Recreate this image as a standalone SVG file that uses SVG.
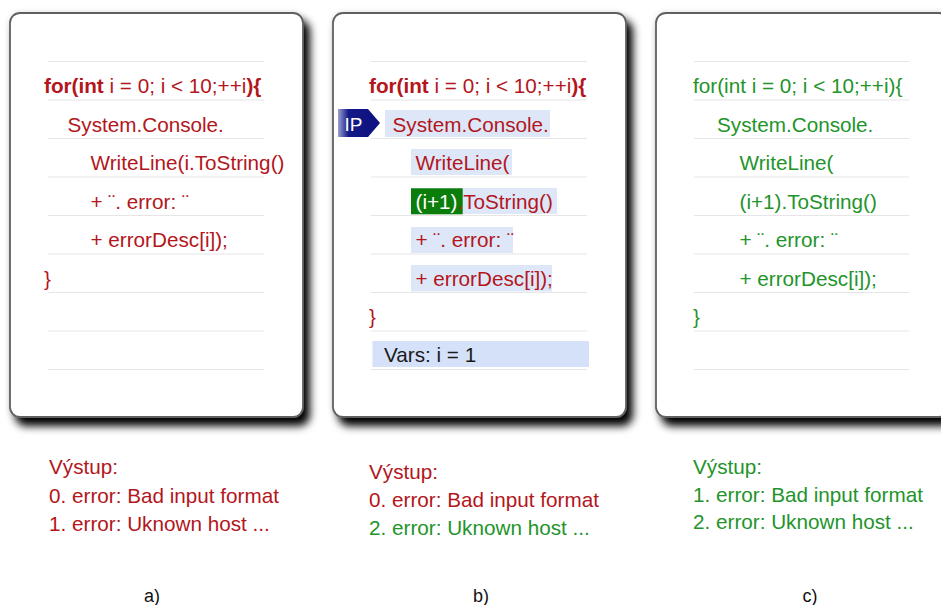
<svg xmlns="http://www.w3.org/2000/svg" width="941" height="605" viewBox="0 0 941 605">
  <defs>
    <filter id="shadow" x="-10%" y="-10%" width="125%" height="125%">
      <feGaussianBlur in="SourceAlpha" stdDeviation="4" result="blur"/>
      <feOffset in="blur" dx="6" dy="8" result="off"/>
      <feComponentTransfer in="off" result="shade">
        <feFuncA type="linear" slope="1"/>
      </feComponentTransfer>
      <feGaussianBlur in="SourceAlpha" stdDeviation="3" result="glow"/>
      <feComponentTransfer in="glow" result="halo">
        <feFuncA type="linear" slope="0.12"/>
      </feComponentTransfer>
      <feMerge>
        <feMergeNode in="halo"/>
        <feMergeNode in="shade"/>
        <feMergeNode in="SourceGraphic"/>
      </feMerge>
    </filter>
    <linearGradient id="ipGrad" x1="0" y1="0" x2="1" y2="0">
      <stop offset="0" stop-color="#9aa0d4"/>
      <stop offset="0.25" stop-color="#141a86"/>
      <stop offset="1" stop-color="#0c1080"/>
    </linearGradient>
  </defs>
  <style>
    text { font-family: "Liberation Sans", Arial, sans-serif; }
    .card { fill: #ffffff; stroke: #606060; stroke-width: 1.8; filter: url(#shadow); }
    .rule { stroke: #e6e6e6; stroke-width: 1.2; }
    .code { font-size: 20.7px; }
    .red { fill: #b3161c; }
    .green { fill: #23942b; }
    .b { font-weight: bold; }
    .hl { fill: #dde7f8; }
    .out { font-size: 20.7px; }
    .lbl { font-size: 18px; fill: #111111; }
  </style>

  <!-- panel a: original loop -->
  <g id="panel-a">
    <rect class="card" x="10" y="13" width="293" height="404" rx="10"/>
    <g class="rule">
      <line x1="48" y1="61.5" x2="264" y2="61.5"/>
      <line x1="48" y1="100" x2="264" y2="100"/>
      <line x1="48" y1="138.5" x2="264" y2="138.5"/>
      <line x1="48" y1="177" x2="264" y2="177"/>
      <line x1="48" y1="215.5" x2="264" y2="215.5"/>
      <line x1="48" y1="254" x2="264" y2="254"/>
      <line x1="48" y1="292.5" x2="264" y2="292.5"/>
      <line x1="48" y1="331" x2="264" y2="331"/>
      <line x1="48" y1="369.5" x2="264" y2="369.5"/>
    </g>
    <g class="code red">
      <text x="44" y="93"><tspan class="b">for(int</tspan> i = 0; i &lt; 10;++i<tspan class="b">){</tspan></text>
      <text x="67.5" y="131.5">System.Console.</text>
      <text x="90.5" y="170">WriteLine(i.ToString()</text>
      <text x="90.5" y="208.5">+ ¨. error: ¨</text>
      <text x="90.5" y="247">+ errorDesc[i]);</text>
      <text x="44" y="285.5">}</text>
    </g>
  </g>

  <!-- panel b: stepping through the corrected loop -->
  <g id="panel-b">
    <rect class="card" x="333" y="13" width="293" height="404" rx="10"/>
    <g class="rule">
      <line x1="371" y1="61.5" x2="587" y2="61.5"/>
      <line x1="371" y1="100" x2="587" y2="100"/>
      <line x1="371" y1="138.5" x2="587" y2="138.5"/>
      <line x1="371" y1="177" x2="587" y2="177"/>
      <line x1="371" y1="215.5" x2="587" y2="215.5"/>
      <line x1="371" y1="254" x2="587" y2="254"/>
      <line x1="371" y1="292.5" x2="587" y2="292.5"/>
      <line x1="371" y1="331" x2="587" y2="331"/>
      <line x1="371" y1="369.5" x2="587" y2="369.5"/>
    </g>
    <rect class="hl" x="385" y="110" width="165" height="27"/>
    <rect class="hl" x="411" y="149" width="101" height="26"/>
    <rect class="hl" x="411" y="188" width="146" height="26"/>
    <rect class="hl" x="411" y="227" width="102" height="26"/>
    <rect class="hl" x="411" y="265" width="141" height="26.5"/>
    <rect x="372.5" y="341" width="216.5" height="26" fill="#d5e1f8"/>
    <rect x="411" y="188.3" width="51.7" height="26" fill="#0b7d0b"/>
    <g class="code red">
      <text x="369" y="93"><tspan class="b">for(int</tspan> i = 0; i &lt; 10;++i<tspan class="b">){</tspan></text>
      <text x="392.5" y="131.5">System.Console.</text>
      <text x="415.5" y="170">WriteLine(</text>
      <text x="415.5" y="208.5"><tspan fill="#ffffff">(i+1)</tspan>.ToString()</text>
      <text x="415.5" y="247">+ ¨. error: ¨</text>
      <text x="415.5" y="285.5">+ errorDesc[i]);</text>
      <text x="369" y="324">}</text>
    </g>
    <text class="code" x="384" y="362" fill="#1a1a1a">Vars: i = 1</text>
    <g id="ip-marker">
      <polygon points="338,109 368,109 380,123 368,137 338,137" fill="url(#ipGrad)"/>
      <text x="344.5" y="131" font-size="19px" fill="#ffffff">IP</text>
    </g>
  </g>

  <!-- panel c: fixed loop -->
  <g id="panel-c">
    <rect class="card" x="656" y="13" width="293" height="404" rx="10"/>
    <g class="rule">
      <line x1="694" y1="61.5" x2="909" y2="61.5"/>
      <line x1="694" y1="100" x2="909" y2="100"/>
      <line x1="694" y1="138.5" x2="909" y2="138.5"/>
      <line x1="694" y1="177" x2="909" y2="177"/>
      <line x1="694" y1="215.5" x2="909" y2="215.5"/>
      <line x1="694" y1="254" x2="909" y2="254"/>
      <line x1="694" y1="292.5" x2="909" y2="292.5"/>
      <line x1="694" y1="331" x2="909" y2="331"/>
      <line x1="694" y1="369.5" x2="909" y2="369.5"/>
    </g>
    <g class="code green">
      <text x="693" y="93">for(int i = 0; i &lt; 10;++i){</text>
      <text x="717" y="131.5">System.Console.</text>
      <text x="739.5" y="170">WriteLine(</text>
      <text x="739.5" y="208.5">(i+1).ToString()</text>
      <text x="739.5" y="247">+ ¨. error: ¨</text>
      <text x="739.5" y="285.5">+ errorDesc[i]);</text>
      <text x="693" y="324">}</text>
    </g>
  </g>

  <!-- program output under each panel -->
  <g id="output-a" class="out red">
    <text x="49" y="474">Výstup:</text>
    <text x="49" y="503">0. error: Bad input format</text>
    <text x="49" y="531">1. error: Uknown host ...</text>
  </g>
  <g id="output-b" class="out">
    <text class="red" x="369" y="479">Výstup:</text>
    <text class="red" x="369" y="507">0. error: Bad input format</text>
    <text class="green" x="369" y="535">2. error: Uknown host ...</text>
  </g>
  <g id="output-c" class="out green">
    <text x="693" y="474">Výstup:</text>
    <text x="693" y="502">1. error: Bad input format</text>
    <text x="693" y="529">2. error: Uknown host ...</text>
  </g>

  <!-- captions -->
  <g id="captions" class="lbl">
    <text x="152" y="602" text-anchor="middle">a)</text>
    <text x="481" y="602" text-anchor="middle">b)</text>
    <text x="810" y="602" text-anchor="middle">c)</text>
  </g>
</svg>
